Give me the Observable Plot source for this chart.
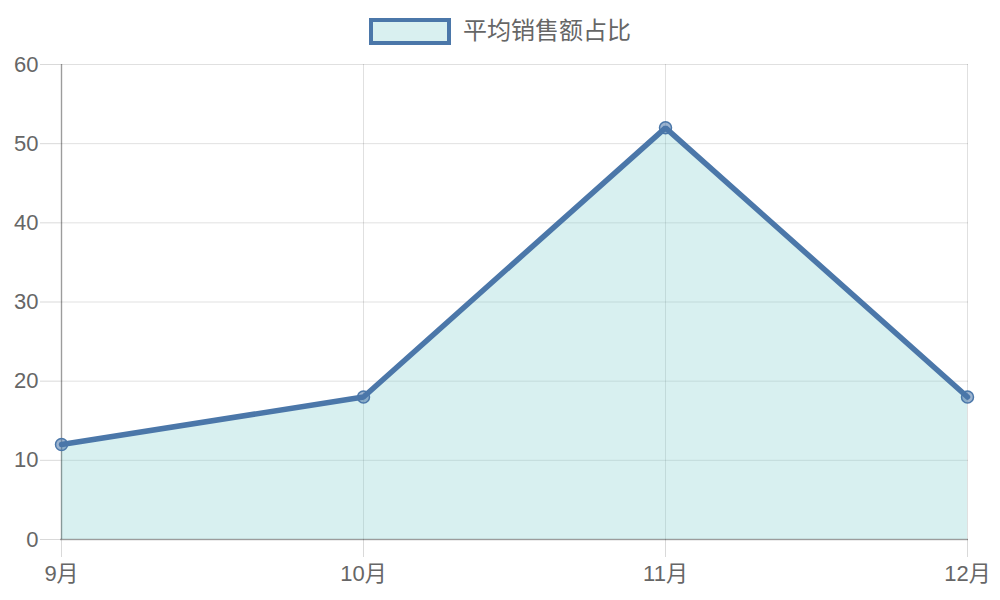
<!DOCTYPE html>
<html>
<head>
<meta charset="utf-8">
<script src="https://cdn.jsdelivr.net/npm/d3@7"></script>
<script src="https://cdn.jsdelivr.net/npm/@observablehq/plot@0.6"></script>
<style>
  html, body { margin: 0; padding: 0; background: #fff; }
  body { width: 1000px; height: 600px; overflow: hidden; font-family: "Liberation Sans", "Noto Sans CJK SC", sans-serif; }
  #legend { height: 50px; display: flex; align-items: flex-start; justify-content: center; box-sizing: border-box; }
  #legend .box { width: 74px; height: 19px; border: 4px solid #4b77a9; background: #d9f0f0; margin-right: 12px; margin-top: 18px; }
  #legend .txt { font-size: 24px; line-height: 28px; color: #666; margin-top: 17px; }
  #chart svg { display: block; }
</style>
</head>
<body>
<div id="legend"><div class="box"></div><div class="txt">平均销售额占比</div></div>
<div id="chart"></div>
<script>
const months = ["9月", "10月", "11月", "12月"];
const values = [12, 18, 52, 18];
const yTicks = [0, 10, 20, 30, 40, 50, 60];
const seriesName = "平均销售额占比";

const data = months.map((m, i) => ({ month: m, value: values[i] }));

const lineColor = "#4b77a9";

const chart = Plot.plot({
  width: 1000,
  height: 550,
  marginTop: 14,
  marginBottom: 61,
  marginLeft: 60,
  marginRight: 32,
  style: { fontFamily: "'Liberation Sans', 'Noto Sans CJK SC', sans-serif", color: "#666", background: "#fff" },
  x: { type: "point", domain: months, padding: 0 },
  y: { domain: [0, 60] },
  marks: [
    Plot.gridY(yTicks, { stroke: "#000", strokeOpacity: 0.12, strokeWidth: 1 }),
    Plot.gridX(months, { stroke: "#000", strokeOpacity: 0.12, strokeWidth: 1 }),
    Plot.areaY(data, { x: "month", y: "value", fill: "#7fcdcd", fillOpacity: 0.3 }),
    Plot.ruleY([0], { stroke: "#000", strokeOpacity: 0.3, strokeWidth: 1.5 }),
    Plot.ruleX([months[0]], { stroke: "#000", strokeOpacity: 0.3, strokeWidth: 1.5 }),
    Plot.axisY(yTicks, { tickSize: 20, tickPadding: 2, fontSize: 22, stroke: "#000", strokeOpacity: 0.15, fill: "#666", label: null }),
    Plot.axisX(months, { tickSize: 18, tickPadding: 8, fontSize: 22, stroke: "#000", strokeOpacity: 0.15, fill: "#666", label: null }),
    Plot.line(data, { x: "month", y: "value", stroke: lineColor, strokeWidth: 5.5, strokeLinejoin: "miter" }),
    Plot.dot(data, { x: "month", y: "value", r: 6, fill: lineColor, fillOpacity: 0.55, stroke: lineColor, strokeWidth: 1.5 })
  ]
});
document.getElementById("chart").appendChild(chart);
</script>
</body>
</html>
